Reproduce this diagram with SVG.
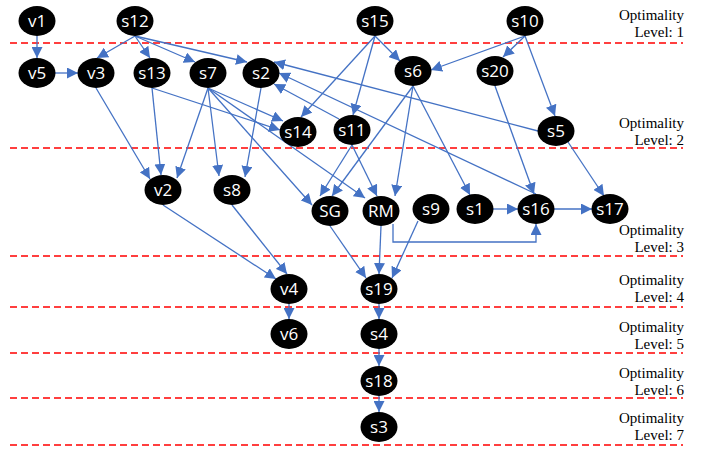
<svg xmlns="http://www.w3.org/2000/svg" width="701" height="449" viewBox="0 0 701 449">
<style>
.lvl{stroke:#FF0000;stroke-width:1.5;stroke-dasharray:7,4;fill:none}
.lbl{font-family:"Liberation Serif","Times New Roman",serif;font-size:15px;fill:#000;text-anchor:end}
.e{stroke:#4472C4;stroke-width:1.3;fill:none;marker-end:url(#ah)}
.n ellipse{fill:#000}
.n text{font-family:"Open Sans","Liberation Sans",sans-serif;font-size:17px;fill:#fff;text-anchor:middle}
</style>
<defs>
<marker id="ah" markerUnits="userSpaceOnUse" markerWidth="11" markerHeight="11" refX="10" refY="5" orient="auto" viewBox="0 0 10 10">
<path d="M0,0 L10,5 L0,10 z" fill="#4472C4"/>
</marker>
</defs>
<rect width="701" height="449" fill="#fff"/>
<g id="levels">
<line class="lvl" x1="10" y1="43" x2="683" y2="43"/>
<line class="lvl" x1="10" y1="148" x2="683" y2="148"/>
<line class="lvl" x1="10" y1="256" x2="683" y2="256"/>
<line class="lvl" x1="10" y1="307" x2="683" y2="307"/>
<line class="lvl" x1="10" y1="353" x2="683" y2="353"/>
<line class="lvl" x1="10" y1="398" x2="683" y2="398"/>
<line class="lvl" x1="10" y1="445" x2="683" y2="445"/>
<text class="lbl" x="684" y="20">Optimality</text><text class="lbl" x="684" y="37">Level: 1</text>
<text class="lbl" x="684" y="128">Optimality</text><text class="lbl" x="684" y="145">Level: 2</text>
<text class="lbl" x="684" y="235">Optimality</text><text class="lbl" x="684" y="252">Level: 3</text>
<text class="lbl" x="684" y="285">Optimality</text><text class="lbl" x="684" y="302">Level: 4</text>
<text class="lbl" x="684" y="332">Optimality</text><text class="lbl" x="684" y="349">Level: 5</text>
<text class="lbl" x="684" y="378">Optimality</text><text class="lbl" x="684" y="395">Level: 6</text>
<text class="lbl" x="684" y="423">Optimality</text><text class="lbl" x="684" y="440">Level: 7</text>
</g>
<g id="connectors">
<path class="e" d="M37,36 L37,58"/>
<path class="e" d="M55,73 L78,73"/>
<path class="e" d="M135,36 L97,58"/>
<path class="e" d="M135,36 L150,58"/>
<path class="e" d="M135,36 L195,62"/>
<path class="e" d="M135,36 L247,62"/>
<path class="e" d="M375,36 L400,61"/>
<path class="e" d="M375,36 L301,117"/>
<path class="e" d="M375,36 L353,115"/>
<path class="e" d="M525,36 L431,70"/>
<path class="e" d="M525,36 L503,57"/>
<path class="e" d="M525,36 L555,116"/>
<path class="e" d="M96,88 L150,179"/>
<path class="e" d="M152,88 L161,175"/>
<path class="e" d="M152,88 L280,130"/>
<path class="e" d="M208,88 L177,178"/>
<path class="e" d="M208,88 L219,176"/>
<path class="e" d="M208,88 L283,121"/>
<path class="e" d="M208,88 L312,205"/>
<path class="e" d="M208,88 L365,198"/>
<path class="e" d="M261,88 L245,177"/>
<path class="e" d="M538,131 L274,62"/>
<path class="e" d="M536,194 L279,73"/>
<path class="e" d="M339,119 L274,84"/>
<path class="e" d="M352,145 L320,196"/>
<path class="e" d="M352,145 L377,196"/>
<path class="e" d="M413,86 L332,196"/>
<path class="e" d="M413,86 L395,196"/>
<path class="e" d="M413,86 L470,195"/>
<path class="e" d="M495,86 L534,194"/>
<path class="e" d="M568,142 L604,196"/>
<path class="e" d="M493,209 L518,209"/>
<path class="e" d="M554,209 L592,209"/>
<path class="e" d="M393,224 L393,242 L536,242 L536,224"/>
<path class="e" d="M381,226 L379,274"/>
<path class="e" d="M418,221 L392,278"/>
<path class="e" d="M330,226 L366,278"/>
<path class="e" d="M163,205 L276,279"/>
<path class="e" d="M232,205 L287,274"/>
<path class="e" d="M289,304 L289,319"/>
<path class="e" d="M379,304 L379,319"/>
<path class="e" d="M379,349 L379,366"/>
<path class="e" d="M379,396 L379,412"/>
</g>
<g id="v1" class="n"><ellipse cx="37" cy="21" rx="18.5" ry="15"/><text x="37" y="27">v1</text></g>
<g id="s12" class="n"><ellipse cx="135" cy="21" rx="18.5" ry="15"/><text x="135" y="27">s12</text></g>
<g id="s15" class="n"><ellipse cx="375" cy="21" rx="18.5" ry="15"/><text x="375" y="27">s15</text></g>
<g id="s10" class="n"><ellipse cx="525" cy="21" rx="18.5" ry="15"/><text x="525" y="27">s10</text></g>
<g id="v5" class="n"><ellipse cx="37" cy="73" rx="18.5" ry="15"/><text x="37" y="79">v5</text></g>
<g id="v3" class="n"><ellipse cx="96" cy="73" rx="18.5" ry="15"/><text x="96" y="79">v3</text></g>
<g id="s13" class="n"><ellipse cx="152" cy="73" rx="18.5" ry="15"/><text x="152" y="79">s13</text></g>
<g id="s7" class="n"><ellipse cx="208" cy="73" rx="18.5" ry="15"/><text x="208" y="79">s7</text></g>
<g id="s2" class="n"><ellipse cx="261" cy="73" rx="18.5" ry="15"/><text x="261" y="79">s2</text></g>
<g id="s6" class="n"><ellipse cx="413" cy="71" rx="18.5" ry="15"/><text x="413" y="77">s6</text></g>
<g id="s20" class="n"><ellipse cx="495" cy="71" rx="18.5" ry="15"/><text x="495" y="77">s20</text></g>
<g id="s14" class="n"><ellipse cx="298" cy="132" rx="18.5" ry="15"/><text x="298" y="138">s14</text></g>
<g id="s11" class="n"><ellipse cx="352" cy="130" rx="18.5" ry="15"/><text x="352" y="136">s11</text></g>
<g id="s5" class="n"><ellipse cx="556" cy="131" rx="18.5" ry="15"/><text x="556" y="137">s5</text></g>
<g id="v2" class="n"><ellipse cx="163" cy="190" rx="18.5" ry="15"/><text x="163" y="196">v2</text></g>
<g id="s8" class="n"><ellipse cx="232" cy="190" rx="18.5" ry="15"/><text x="232" y="196">s8</text></g>
<g id="SG" class="n"><ellipse cx="330" cy="211" rx="18.5" ry="15"/><text x="330" y="217">SG</text></g>
<g id="RM" class="n"><ellipse cx="381" cy="211" rx="18.5" ry="15"/><text x="381" y="217">RM</text></g>
<g id="s9" class="n"><ellipse cx="431" cy="209" rx="18.5" ry="15"/><text x="431" y="215">s9</text></g>
<g id="s1" class="n"><ellipse cx="475" cy="209" rx="18.5" ry="15"/><text x="475" y="215">s1</text></g>
<g id="s16" class="n"><ellipse cx="536" cy="209" rx="18.5" ry="15"/><text x="536" y="215">s16</text></g>
<g id="s17" class="n"><ellipse cx="610" cy="209" rx="18.5" ry="15"/><text x="610" y="215">s17</text></g>
<g id="v4" class="n"><ellipse cx="289" cy="289" rx="18.5" ry="15"/><text x="289" y="295">v4</text></g>
<g id="s19" class="n"><ellipse cx="379" cy="289" rx="18.5" ry="15"/><text x="379" y="295">s19</text></g>
<g id="v6" class="n"><ellipse cx="289" cy="334" rx="18.5" ry="15"/><text x="289" y="340">v6</text></g>
<g id="s4" class="n"><ellipse cx="379" cy="334" rx="18.5" ry="15"/><text x="379" y="340">s4</text></g>
<g id="s18" class="n"><ellipse cx="379" cy="381" rx="18.5" ry="15"/><text x="379" y="387">s18</text></g>
<g id="s3" class="n"><ellipse cx="379" cy="427" rx="18.5" ry="15"/><text x="379" y="433">s3</text></g>
</svg>
